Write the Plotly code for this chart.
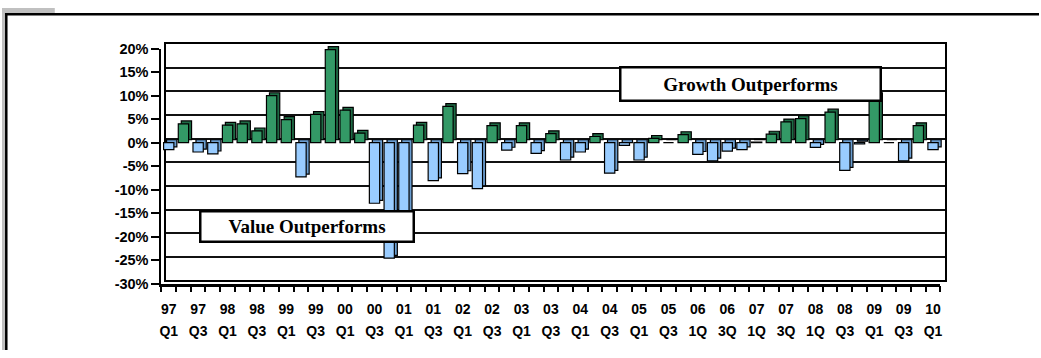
import plotly.graph_objects as go

W, H = 1041, 358

# ---------------- data ----------------
quarters = [f"{y:02d} Q{q}" for y in [97, 98, 99, 0, 1, 2, 3, 4, 5, 6, 7, 8, 9] for q in (1, 2, 3, 4)] + ["10 Q1"]
values = [
    -1.5, 4.0, -2.0, -2.4, 3.7, 4.0, 2.5, 10.0, 4.9, -7.3,
    6.0, 19.8, 6.9, 2.0, -12.9, -24.6, -18.0, 3.7, -8.1, 7.7,
    -6.6, -9.8, 3.6, -1.6, 3.6, -2.3, 1.9, -3.7, -2.0, 1.3,
    -6.5, -0.6, -3.7, 0.9, 0.0, 1.7, -2.5, -3.9, -1.8, -1.5,
    0.1, 1.8, 4.4, 5.1, -1.0, 6.5, -5.9, -0.3, 10.0, 0.0,
    -3.9, 3.6, -1.5,
]
label_years = ["97", "97", "98", "98", "99", "99", "00", "00", "01", "01", "02", "02", "03", "03",
               "04", "04", "05", "05", "06", "06", "07", "07", "08", "08", "09", "09", "10"]
label_quarters = ["Q1", "Q3", "Q1", "Q3", "Q1", "Q3", "Q1", "Q3", "Q1", "Q3", "Q1", "Q3", "Q1", "Q3",
                  "Q1", "Q3", "Q1", "Q3", "1Q", "3Q", "1Q", "3Q", "1Q", "Q3", "Q1", "Q3", "Q1"]
y_ticks = [20, 15, 10, 5, 0, -5, -10, -15, -20, -25, -30]
y_tick_labels = ["20%", "15%", "10%", "5%", "0%", "-5%", "-10%", "-15%", "-20%", "-25%", "-30%"]
growth_label = "Growth Outperforms"
value_label = "Value Outperforms"

# ---------------- styling ----------------
GREEN, GREEN_D = "#339966", "#1e6b45"
BLUE, BLUE_D = "#99ccff", "#6a9dd0"
front_colors = [GREEN if v >= 0 else BLUE for v in values]
side_colors = [GREEN_D if v >= 0 else BLUE_D for v in values]
xpos = list(range(len(values)))
label_pos = xpos[::2]


def fx(px):
    return px / W


def fy(py):
    return 1 - py / H


XR = [-0.5, len(values) - 0.5]
YR = [-30, 20]

fig = go.Figure()

# back copy of bars (depth effect)
fig.add_trace(go.Bar(x=xpos, y=values, xaxis="x2", yaxis="y2", width=0.7,
                     marker=dict(color=side_colors, line=dict(color="black", width=1.2)),
                     hoverinfo="skip", showlegend=False))
# front bars
fig.add_trace(go.Bar(x=xpos, y=values, xaxis="x3", yaxis="y3", width=0.7,
                     marker=dict(color=front_colors, line=dict(color="black", width=1.2)),
                     customdata=quarters, hovertemplate="%{customdata}: %{y}%<extra></extra>",
                     showlegend=False))
# invisible trace to activate the back wall subplot
fig.add_trace(go.Scatter(x=[0], y=[0], xaxis="x", yaxis="y", mode="markers",
                         marker=dict(opacity=0), hoverinfo="skip", showlegend=False))

xfont = dict(family="Liberation Sans, Arial", size=14, color="black", weight="bold")
yfont = dict(family="Liberation Sans, Arial", size=14.5, color="black", weight="bold")

fig.update_layout(
    width=W, height=H, margin=dict(l=0, r=0, t=0, b=0), autosize=False,
    paper_bgcolor="white", plot_bgcolor="rgba(0,0,0,0)", barmode="overlay",
    # back wall
    xaxis=dict(domain=[fx(165), fx(947)], range=XR, showgrid=False, zeroline=False,
               showticklabels=False, ticks="", showline=True, mirror=True,
               linecolor="black", linewidth=1.5, fixedrange=True),
    yaxis=dict(domain=[fy(285.2), fy(37.7)], range=YR, dtick=5, tick0=0, showgrid=True,
               gridcolor="#111111", gridwidth=1.5, zeroline=False, showticklabels=False,
               ticks="", showline=True, mirror=True, linecolor="black", linewidth=1.5,
               fixedrange=True),
    # bar depth copy
    xaxis2=dict(domain=[fx(163), fx(945)], range=XR, visible=False, fixedrange=True),
    yaxis2=dict(domain=[fy(285.5), fy(39.5)], range=YR, visible=False, fixedrange=True),
    # front axes
    xaxis3=dict(domain=[fx(160), fx(942)], range=XR, showgrid=False, zeroline=False,
                tickmode="array", tickvals=label_pos, ticktext=label_years, ticks="",
                tickfont=xfont, ticklabelstandoff=11, showline=True,
                linecolor="black", linewidth=2.5, anchor="y3",
                minor=dict(tick0=-0.5, dtick=1, ticks="outside", ticklen=6, tickwidth=2,
                           tickcolor="black", showgrid=False),
                fixedrange=True),
    yaxis3=dict(domain=[fy(288.5), fy(42.5)], range=YR, showgrid=False, zeroline=False,
                tickmode="array", tickvals=y_ticks, ticktext=y_tick_labels,
                ticks="outside", ticklen=8, tickwidth=2, tickcolor="black",
                tickfont=yfont, showline=True, linecolor="black", linewidth=2,
                anchor="x3", fixedrange=True),
    xaxis4=dict(overlaying="x3", range=XR, side="bottom", anchor="y3", showgrid=False,
                zeroline=False, tickmode="array", tickvals=label_pos, ticktext=label_quarters,
                ticks="", tickfont=xfont, ticklabelstandoff=37, showline=False,
                fixedrange=True),
)

# dummy trace to make xaxis4 render
fig.add_trace(go.Scatter(x=[0], y=[0], xaxis="x4", yaxis="y3", mode="markers",
                         marker=dict(opacity=0), hoverinfo="skip", showlegend=False))

# frame
fig.add_shape(type="rect", xref="paper", yref="paper", x0=0, x1=fx(53), y0=fy(6), y1=1,
              fillcolor="#c0c0c0", line_width=0, layer="below")
fig.add_shape(type="rect", xref="paper", yref="paper", x0=0, x1=fx(3), y0=0, y1=1,
              fillcolor="#c0c0c0", line_width=0, layer="below")
fig.add_shape(type="line", xref="paper", yref="paper", x0=fx(3), x1=1, y0=fy(6.5), y1=fy(6.5),
              line=dict(color="black", width=2.5))
fig.add_shape(type="line", xref="paper", yref="paper", x0=fx(4.3), x1=fx(4.3), y0=0, y1=fy(6),
              line=dict(color="black", width=2.5))

boxfont = dict(family="Liberation Serif, Times New Roman", size=19, color="black", weight="bold")
fig.add_annotation(text=growth_label, xref="paper", yref="paper", x=fx(751), y=fy(80),
                   showarrow=False, font=boxfont, bgcolor="white", bordercolor="black",
                   borderwidth=2.5, borderpad=0, width=258, height=31,
                   xanchor="center", yanchor="middle")
fig.add_annotation(text=value_label, xref="paper", yref="paper", x=fx(306), y=fy(228.7),
                   showarrow=False, font=boxfont, bgcolor="white", bordercolor="black",
                   borderwidth=2.5, borderpad=0, width=211, height=28,
                   xanchor="center", yanchor="middle")

fig.write_html("out.html")
